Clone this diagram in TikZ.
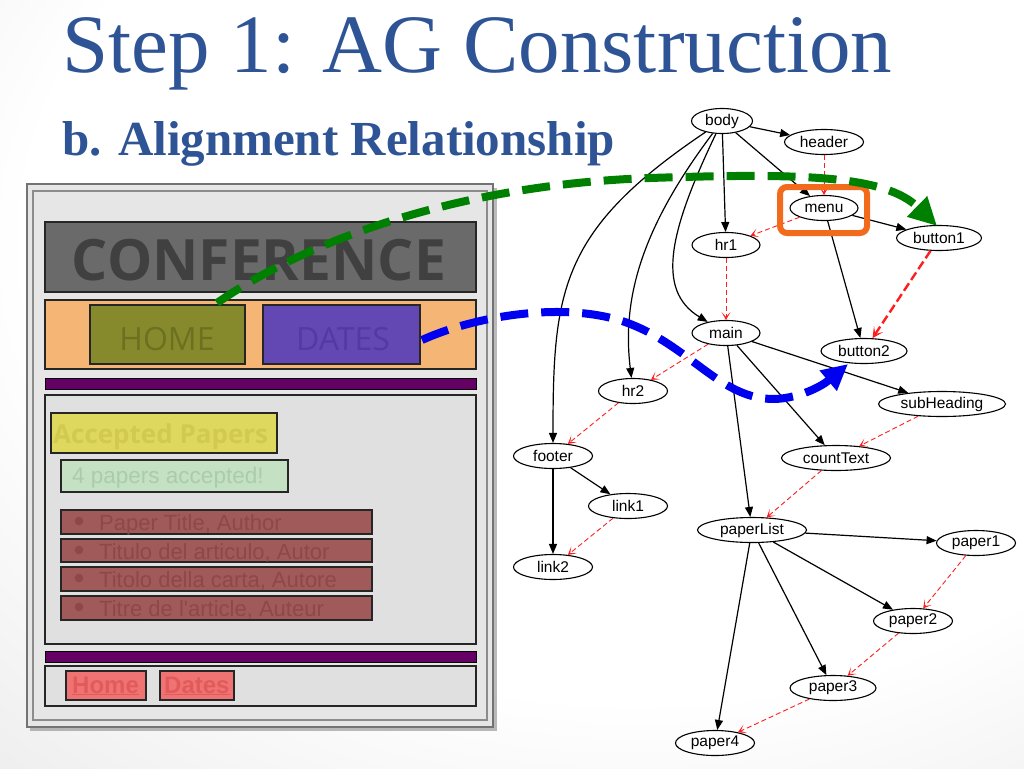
\documentclass[tikz,border=0pt]{standalone}
\usepackage{fontspec}
\setmainfont{Liberation Serif}
\newfontfamily\osans{Open Sans}
\newfontfamily\lsans{Liberation Sans}
\usetikzlibrary{shapes.geometric,arrows.meta}
\definecolor{titleblue}{RGB}{46,84,150}
\definecolor{confbox}{RGB}{106,106,106}
\definecolor{conftext}{RGB}{64,64,64}
\definecolor{navband}{RGB}{244,181,117}
\definecolor{homebox}{RGB}{135,138,44}
\definecolor{hometext}{RGB}{108,113,32}
\definecolor{datesbox}{RGB}{99,71,178}
\definecolor{datestext}{RGB}{84,56,166}
\definecolor{hrbar}{RGB}{101,0,101}
\definecolor{panel}{RGB}{224,224,224}
\definecolor{frame}{RGB}{230,230,230}
\definecolor{accbox}{RGB}{222,216,94}
\definecolor{acctext}{RGB}{210,202,78}
\definecolor{cntbox}{RGB}{196,225,196}
\definecolor{cnttext}{RGB}{170,204,170}
\definecolor{rowbox}{RGB}{160,90,90}
\definecolor{rowtext}{RGB}{142,72,72}
\definecolor{linkbox}{RGB}{240,115,115}
\definecolor{linktext}{RGB}{226,91,91}
\definecolor{hlgreen}{RGB}{0,128,0}
\definecolor{hlblue}{RGB}{0,0,240}
\definecolor{hlorange}{RGB}{242,107,29}
\definecolor{alred}{RGB}{255,30,30}
\pgfdeclareradialshading{slidebg}{\pgfpoint{10bp}{15bp}}{color(0bp)=(white); color(30bp)=(white); color(55bp)=(black!12); color(80bp)=(black!22)}
\tikzset{
  gnode/.style={ellipse, draw=black, line width=1.1pt, fill=white, inner sep=0pt,
    minimum height=25pt, font=\lsans\fontsize{15.5}{16}\selectfont},
  tree/.style={draw=black, line width=1.2pt, -{Triangle[length=10pt,width=8pt]}},
  align/.style={draw=alred, line width=0.9pt, dash pattern=on 5pt off 3pt,
    -{Stealth[length=8pt,width=9pt,inset=5pt]}},
  bigalign/.style={draw=alred, line width=2.4pt, dash pattern=on 9pt off 4pt,
    -{Stealth[length=11pt,width=11pt,inset=6pt]}},
  mockbox/.style={draw=black!85, line width=1.2pt},
  mocktxt/.style={inner sep=0pt},
  hlarrow/.style={line width=8pt, dash pattern=on 28pt off 13pt},
}
\begin{document}
\begin{tikzpicture}[x=1pt,y=-1pt]
\useasboundingbox (0,0) rectangle (1024,768);
\shade[shading=slidebg] (0,0) rectangle (1024,768);

% titles
\node[mocktxt, anchor=base west, text=titleblue] (title) at (62,72)
  {\fontsize{83}{90}\selectfont Step 1: AG Construction};
\node[mocktxt, anchor=base west, text=titleblue] (subtitle) at (62,155)
  {\fontsize{49}{55}\selectfont\bfseries b. Alignment Relationship};

% ---------------- mockup ----------------
\fill[black!45, opacity=0.6] (30,188) rectangle (497,731);
\draw[draw=black!55, fill=frame, line width=1.2pt] (27,184) rectangle (493,727);
\draw[draw=black!45, line width=1.5pt] (33,191) rectangle (487,720);

\draw[mockbox, fill=confbox] (45,222) rectangle (476,292);
\node[mocktxt, anchor=base, text=conftext] (conf) at (259,280)
  {\osans\bfseries\fontsize{57}{60}\selectfont CONFERENCE};

\draw[mockbox, fill=navband] (45,300) rectangle (476,369);
\draw[mockbox, fill=homebox] (90,305) rectangle (245,364);
\node[mocktxt, anchor=base, text=hometext] (home) at (167,350)
  {\osans\fontsize{32}{34}\selectfont HOME};
\draw[mockbox, fill=datesbox] (263,305) rectangle (420,364);
\node[mocktxt, anchor=base, text=datestext] (dates) at (343,350)
  {\osans\fontsize{32}{34}\selectfont DATES};

\draw[draw=black, fill=hrbar, line width=0.8pt] (45,378) rectangle (476,389);

\draw[mockbox, fill=panel] (45,395) rectangle (476,644);
\draw[mockbox, fill=accbox] (51,413) rectangle (277,453);
\node[mocktxt, anchor=base west, text=acctext] (acc) at (53,443)
  {\osans\bfseries\fontsize{26}{28}\selectfont Accepted Papers};
\draw[mockbox, fill=cntbox] (61,460) rectangle (288,492);
\node[mocktxt, anchor=base west, text=cnttext] (cnt) at (72,483)
  {\lsans\fontsize{22.5}{24}\selectfont 4 papers accepted!};

\draw[mockbox, fill=rowbox] (61,510) rectangle (372,534);
\fill[rowtext] (79,521) circle (4.3);
\node[mocktxt, anchor=base west, text=rowtext] (row1) at (99,530)
  {\lsans\fontsize{22}{24}\selectfont Paper Title, Author};
\draw[mockbox, fill=rowbox] (61,539) rectangle (372,562);
\fill[rowtext] (79,550) circle (4.3);
\node[mocktxt, anchor=base west, text=rowtext] (row2) at (99,559)
  {\lsans\fontsize{22}{24}\selectfont Titulo del articulo, Autor};
\draw[mockbox, fill=rowbox] (61,567) rectangle (372,591);
\fill[rowtext] (79,578) circle (4.3);
\node[mocktxt, anchor=base west, text=rowtext] (row3) at (99,587)
  {\lsans\fontsize{22}{24}\selectfont Titolo della carta, Autore};
\draw[mockbox, fill=rowbox] (61,596) rectangle (372,620);
\fill[rowtext] (79,607) circle (4.3);
\node[mocktxt, anchor=base west, text=rowtext] (row4) at (99,616)
  {\lsans\fontsize{22}{24}\selectfont Titre de l'article, Auteur};

\draw[draw=black, fill=hrbar, line width=0.8pt] (45,651) rectangle (476,662);
\draw[mockbox, fill=panel] (45,666) rectangle (476,706);
\draw[mockbox, fill=linkbox] (66,671) rectangle (146,700);
\node[mocktxt, anchor=base west, text=linktext] (homelink) at (72,693)
  {\lsans\bfseries\fontsize{24}{26}\selectfont\underline{Home}};
\draw[mockbox, fill=linkbox] (160,671) rectangle (234,700);
\node[mocktxt, anchor=base west, text=linktext] (dateslink) at (164,693)
  {\lsans\bfseries\fontsize{24}{26}\selectfont\underline{Dates}};

% ---------------- graph nodes ----------------
\node[gnode, minimum width=61pt] (body) at (722,121) {body};
\node[gnode, minimum width=79pt] (header) at (824,142) {header};
\node[gnode, minimum width=68pt] (menu) at (824,208) {menu};
\node[gnode, minimum width=68pt] (hr1) at (726,245) {hr1};
\node[gnode, minimum width=85pt] (button1) at (939,238) {button1};
\node[gnode, minimum width=68pt] (main) at (726,333) {main};
\node[gnode, minimum width=86pt] (button2) at (864,351) {button2};
\node[gnode, minimum width=69pt] (hr2) at (633,391) {hr2};
\node[gnode, minimum width=127pt] (subHeading) at (942,404) {subHeading};
\node[gnode, minimum width=79pt] (footer) at (553,456) {footer};
\node[gnode, minimum width=109pt] (countText) at (836,458) {countText};
\node[gnode, minimum width=79pt] (link1) at (628,506) {link1};
\node[gnode, minimum width=79pt] (link2) at (553,567) {link2};
\node[gnode, minimum width=109pt] (paperList) at (752,530) {paperList};
\node[gnode, minimum width=79pt] (paper1) at (976,543) {paper1};
\node[gnode, minimum width=79pt] (paper2) at (913,621) {paper2};
\node[gnode, minimum width=86pt] (paper3) at (833,688) {paper3};
\node[gnode, minimum width=79pt] (paper4) at (715,743) {paper4};

% tree edges
\draw[tree] (body) -- (header);
\draw[tree] (body) -- (menu);
\draw[tree] (body) -- (hr1);
\draw[tree] (body) .. controls (670,230) and (655,290) .. (main);
\draw[tree] (body) .. controls (640,230) and (622,300) .. (hr2);
\draw[tree] (body) .. controls (560,230) and (553,290) .. (footer);
\draw[tree] (menu) -- (button1);
\draw[tree] (menu) -- (button2);
\draw[tree] (main) -- (subHeading);
\draw[tree] (main) -- (countText);
\draw[tree] (main) -- (paperList);
\draw[tree] (footer) -- (link1);
\draw[tree] (footer) -- (link2);
\draw[tree] (paperList) -- (paper1);
\draw[tree] (paperList) -- (paper2);
\draw[tree] (paperList) -- (paper3);
\draw[tree] (paperList) -- (paper4);

% alignment edges
\draw[align] (header) -- (menu);
\draw[align] (menu) -- (hr1);
\draw[align] (hr1) -- (main);
\draw[align] (main) -- (hr2);
\draw[align] (hr2) -- (footer);
\draw[align] (subHeading) -- (countText);
\draw[align] (countText) -- (paperList);
\draw[align] (link1) -- (link2);
\draw[align] (paper1) -- (paper2);
\draw[align] (paper2) -- (paper3);
\draw[align] (paper3) -- (paper4);
\draw[bigalign] (button1) -- (button2);

% highlight box
\draw[hlorange, line width=6pt, rounded corners=7pt] (780,187) rectangle (867,233);

% highlight arrows
\coordinate (gstart) at (217,303);
\coordinate (gend) at (937,226);
\draw[hlgreen, hlarrow, -{Triangle[length=28pt,width=27pt]}] (gstart)
   .. controls (300,245) and (450,185) .. (650,178)
   .. controls (800,173) and (885,175) .. (gend);
\coordinate (bstart) at (422,340);
\coordinate (bend) at (848,364);
\draw[hlblue, hlarrow, -{Triangle[length=26pt,width=25pt]}] (bstart)
   .. controls (470,318) and (560,300) .. (625,322)
   .. controls (690,345) and (720,400) .. (775,399)
   .. controls (800,398) and (822,386) .. (bend);
\end{tikzpicture}
\end{document}
